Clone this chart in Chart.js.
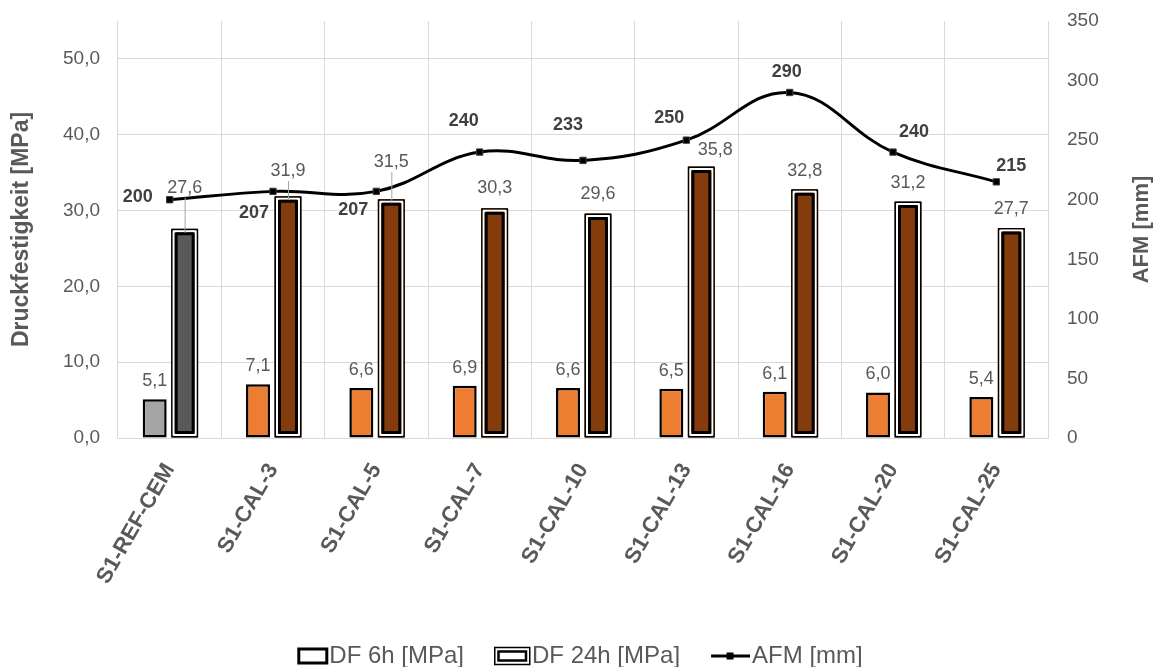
<!DOCTYPE html>
<html>
<head>
<meta charset="utf-8">
<script src="https://cdn.jsdelivr.net/npm/chart.js@4.4.1/dist/chart.umd.min.js"></script>
<style>
  html, body { margin: 0; padding: 0; background: #fff; }
  #wrap { width: 1160px; height: 667px; }
</style>
</head>
<body>
<div id="wrap"><canvas id="chart"></canvas></div>
<script>
// data
const categories = ["S1-REF-CEM", "S1-CAL-3", "S1-CAL-5", "S1-CAL-7", "S1-CAL-10",
                    "S1-CAL-13", "S1-CAL-16", "S1-CAL-20", "S1-CAL-25"];
const df6h  = [5.1, 7.1, 6.6, 6.9, 6.6, 6.5, 6.1, 6.0, 5.4];
const df24h = [27.6, 31.9, 31.5, 30.3, 29.6, 35.8, 32.8, 31.2, 27.7];
const afm   = [200, 207, 207, 240, 233, 250, 290, 240, 215];
const leftTicks  = [0, 10, 20, 30, 40, 50];
const rightTicks = [0, 50, 100, 150, 200, 250, 300, 350];

const FONT = "'Liberation Sans', Arial, sans-serif";
const GREY_TXT = "#595959";

// first group is the reference mix, drawn in greys
const col6h  = categories.map((_, i) => i === 0 ? "#a5a5a5" : "#ed7d31");
const col24h = categories.map((_, i) => i === 0 ? "#595959" : "#843c0c");

// label nudges [dx, dy, leaderLine]
const nudge24 = [[0, -41, true], [0, -25, true], [0, -37, true], [0, -20], [0, -20],
                 [14, -17], [0, -18], [0, -18], [0, -19]];
const nudgeAfm = [[-32, -3], [-19, 22], [-23, 19], [-16, -31], [-15, -35],
                  [-17, -22], [-3, -20], [21, -20], [15, -16]];

function de(v) { return v.toFixed(1).replace(".", ","); }

// 24h bars get the double outline
const doubleBorder = {
    id: "doubleBorder",
    afterDatasetDraw(chart, args) {
        if (args.index !== 1) return;
        const ctx = chart.ctx;
        args.meta.data.forEach(bar => {
            const p = bar.getProps(["x", "y", "base", "width"], true);
            const l = p.x - p.width / 2, w = p.width, t = p.y, h = p.base - p.y;
            ctx.save();
            ctx.lineJoin = "round";
            ctx.strokeStyle = "#000"; ctx.lineWidth = 1.5;
            ctx.strokeRect(l + 0.75, t + 0.75, w - 1.5, h - 1.5);
            ctx.strokeStyle = "#fff"; ctx.lineWidth = 2;
            ctx.strokeRect(l + 2.5, t + 2.5, w - 5, h - 5);
            ctx.strokeStyle = "#000"; ctx.lineWidth = 3;
            ctx.strokeRect(l + 5, t + 5, w - 10, h - 10);
            ctx.restore();
        });
    }
};

const labels = {
    id: "labels",
    afterDatasetsDraw(chart) {
        const ctx = chart.ctx;
        ctx.save();
        ctx.textAlign = "center";
        ctx.textBaseline = "middle";

        ctx.font = "18px " + FONT;
        ctx.fillStyle = GREY_TXT;
        chart.getDatasetMeta(0).data.forEach((bar, i) => {
            ctx.fillText(de(df6h[i]), bar.x, bar.y - 18);
        });
        chart.getDatasetMeta(1).data.forEach((bar, i) => {
            const n = nudge24[i];
            const lx = bar.x + n[0], ly = bar.y + n[1];
            if (n[2]) {
                ctx.strokeStyle = "#a6a6a6";
                ctx.lineWidth = 1;
                ctx.beginPath();
                ctx.moveTo(lx + 0.5, ly + 10);
                ctx.lineTo(lx + 0.5, bar.y + 4);
                ctx.stroke();
            }
            ctx.fillText(de(df24h[i]), lx, ly);
        });

        ctx.font = "bold 18px " + FONT;
        ctx.fillStyle = "#404040";
        chart.getDatasetMeta(2).data.forEach((pt, i) => {
            const n = nudgeAfm[i];
            ctx.fillText(String(afm[i]), pt.x + n[0], pt.y + n[1]);
        });
        ctx.restore();
    },
    afterDraw(chart) {
        const ctx = chart.ctx;
        const area = chart.chartArea;
        ctx.save();
        // right axis title, reading bottom-up like the left one
        ctx.fillStyle = GREY_TXT;
        ctx.font = "bold 22px " + FONT;
        ctx.textAlign = "center";
        ctx.textBaseline = "middle";
        ctx.translate(1142, (area.top + area.bottom) / 2);
        ctx.rotate(-Math.PI / 2);
        ctx.fillText("AFM [mm]", 0, 0);
        ctx.restore();

        // legend
        ctx.save();
        ctx.font = "24px " + FONT;
        ctx.textBaseline = "middle";
        ctx.fillStyle = GREY_TXT;
        const icons = [{ kind: "box", w: 32 }, { kind: "double", w: 38 }, { kind: "line", w: 42 }];
        const gap = 30;
        const items = chart.data.datasets.map((ds, i) => ({
            text: ds.label, icon: icons[i], tw: ctx.measureText(ds.label).width
        }));
        const total = items.reduce((s, it) => s + it.icon.w + it.tw, 0) + gap * (items.length - 1);
        let x = 580 - total / 2;
        const cy = 656;
        items.forEach(it => {
            const w = it.icon.w;
            ctx.strokeStyle = "#000";
            if (it.icon.kind === "box") {
                ctx.lineWidth = 3;
                ctx.strokeRect(x + 1.5, cy - 7, w - 4, 14);
            } else if (it.icon.kind === "double") {
                ctx.lineWidth = 1.5;
                ctx.strokeRect(x + 0.75, cy - 8.5, w - 3, 17);
                ctx.lineWidth = 2.5;
                ctx.strokeRect(x + 4.5, cy - 4.5, w - 10.5, 9);
            } else {
                ctx.lineWidth = 3;
                ctx.beginPath();
                ctx.moveTo(x + 1, cy);
                ctx.lineTo(x + w - 2, cy);
                ctx.stroke();
                ctx.fillStyle = "#000";
                ctx.fillRect(x + w / 2 - 4.5, cy - 3.5, 7, 7);
                ctx.fillStyle = GREY_TXT;
            }
            x += w;
            ctx.fillText(it.text, x, cy);
            x += it.tw + gap;
        });
        ctx.restore();
    }
};

const ctx = document.getElementById("chart").getContext("2d");

new Chart(ctx, {
    type: "bar",
    data: {
        labels: categories,
        datasets: [{
            label: "DF 6h [MPa]",
            data: df6h,
            backgroundColor: col6h,
            borderColor: "#000",
            borderWidth: 2.5,
            borderSkipped: false,
            barPercentage: 0.8,
            categoryPercentage: 0.58,
            yAxisID: "y",
            order: 1
        }, {
            label: "DF 24h [MPa]",
            data: df24h,
            backgroundColor: col24h,
            borderWidth: 0,
            barPercentage: 0.9,
            categoryPercentage: 0.58,
            yAxisID: "y",
            order: 1
        }, {
            type: "line",
            label: "AFM [mm]",
            data: afm,
            borderColor: "#000",
            borderWidth: 3,
            tension: 0.4,
            pointStyle: "rect",
            pointRadius: 4.5,
            pointBackgroundColor: "#000",
            pointBorderColor: "#404040",
            pointBorderWidth: 1,
            yAxisID: "y1",
            order: 0
        }]
    },
    options: {
        responsive: true,
        maintainAspectRatio: false,
        animation: false,
        layout: { padding: { top: 21, left: 0, right: 0, bottom: 0 } },
        plugins: {
            legend: { display: false },
            tooltip: { enabled: false }
        },
        scales: {
            x: {
                grid: { color: "#d9d9d9", offset: true, drawTicks: false },
                border: { color: "#d9d9d9" },
                ticks: {
                    color: GREY_TXT,
                    font: { family: FONT, size: 22, weight: "bold" },
                    minRotation: 60,
                    maxRotation: 60,
                    padding: 21
                },
                afterFit(scale) { scale.height = 229; }
            },
            y: {
                position: "left",
                min: 0,
                max: 55,
                // tick gap comes from an invisible tick mark, keeps the top padding small
                grid: { color: "#d9d9d9", drawTicks: true, tickLength: 18, tickColor: "rgba(0,0,0,0)" },
                border: { display: false },
                ticks: {
                    color: GREY_TXT,
                    font: { family: FONT, size: 19 },
                    padding: 0,
                    callback: v => de(v)
                },
                afterBuildTicks(scale) { scale.ticks = leftTicks.map(v => ({ value: v })); },
                title: {
                    display: true,
                    text: "Druckfestigkeit [MPa]",
                    color: GREY_TXT,
                    font: { family: FONT, size: 23, weight: "bold" },
                    padding: { top: 8, bottom: 0 }
                },
                afterFit(scale) { scale.width = 118; }
            },
            y1: {
                position: "right",
                min: 0,
                max: 350,
                grid: { drawOnChartArea: false, drawTicks: true, tickLength: 19, tickColor: "rgba(0,0,0,0)" },
                border: { display: false },
                ticks: {
                    color: GREY_TXT,
                    font: { family: FONT, size: 19 },
                    padding: 0
                },
                afterBuildTicks(scale) { scale.ticks = rightTicks.map(v => ({ value: v })); },
                afterFit(scale) { scale.width = 112; }
            }
        }
    },
    plugins: [doubleBorder, labels]
});
</script>
</body>
</html>
